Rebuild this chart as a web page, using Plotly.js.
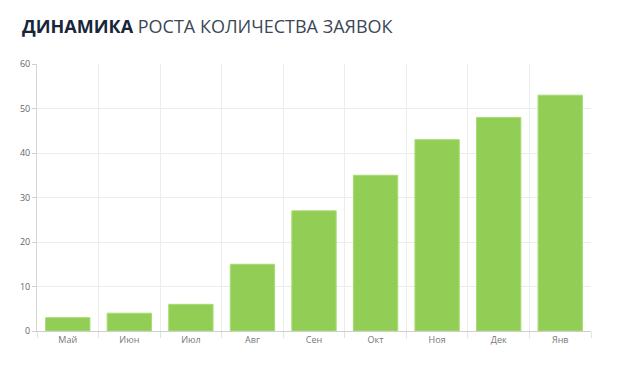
<!DOCTYPE html>
<html><head><meta charset="utf-8">
<script src="https://cdn.plot.ly/plotly-3.0.1.min.js"></script>
<style>html,body{margin:0;padding:0;background:#fff}#c{width:624px;height:368px}</style>
</head><body><div id="c"></div>
<script>
const months = ["Май","Июн","Июл","Авг","Сен","Окт","Ноя","Дек","Янв"];
const requests = [3,4,6,15,27,35,43,48,53];
const yTicks = [0,10,20,30,40,50,60];

Plotly.newPlot('c', [{
  type: 'bar', x: months, y: requests,
  marker: {color: '#92cd55', line: {color: '#a8dc72', width: 1}},
  width: 0.72, hoverinfo: 'none'
}], {
  width: 624, height: 368,
  margin: {l: 37, r: 33, t: 64, b: 37},
  paper_bgcolor: '#fff', plot_bgcolor: '#fff',
  title: {
    text: '<b>ДИНАМИКА</b> <span style="color:#3b4756">РОСТА КОЛИЧЕСТВА ЗАЯВОК</span>',
    x: 22/624, xanchor: 'left', xref: 'container', y: 1 - 27/368, yanchor: 'middle', yref: 'container',
    font: {family: 'Open Sans', size: 18, color: '#18263a'}
  },
  xaxis: {
    type: 'category', tickson: 'boundaries', showgrid: true, gridcolor: '#ececec', gridwidth: 1,
    ticks: 'outside', ticklen: 6, tickcolor: '#e2e2e2', showline: true, linecolor: '#cfcfcf', linewidth: 1,
    tickfont: {family: 'Open Sans', size: 9, color: '#777'}, zeroline: false
  },
  yaxis: {
    range: [0, 60], tickvals: yTicks, showgrid: true, gridcolor: '#ececec',
    ticks: 'outside', ticklen: 4, tickcolor: '#cfcfcf', showline: true, linecolor: '#d5d5d5',
    tickfont: {family: 'Open Sans', size: 9, color: '#666'}, zeroline: false
  },
  showlegend: false
}, {displayModeBar: false, staticPlot: true});
</script></body></html>
